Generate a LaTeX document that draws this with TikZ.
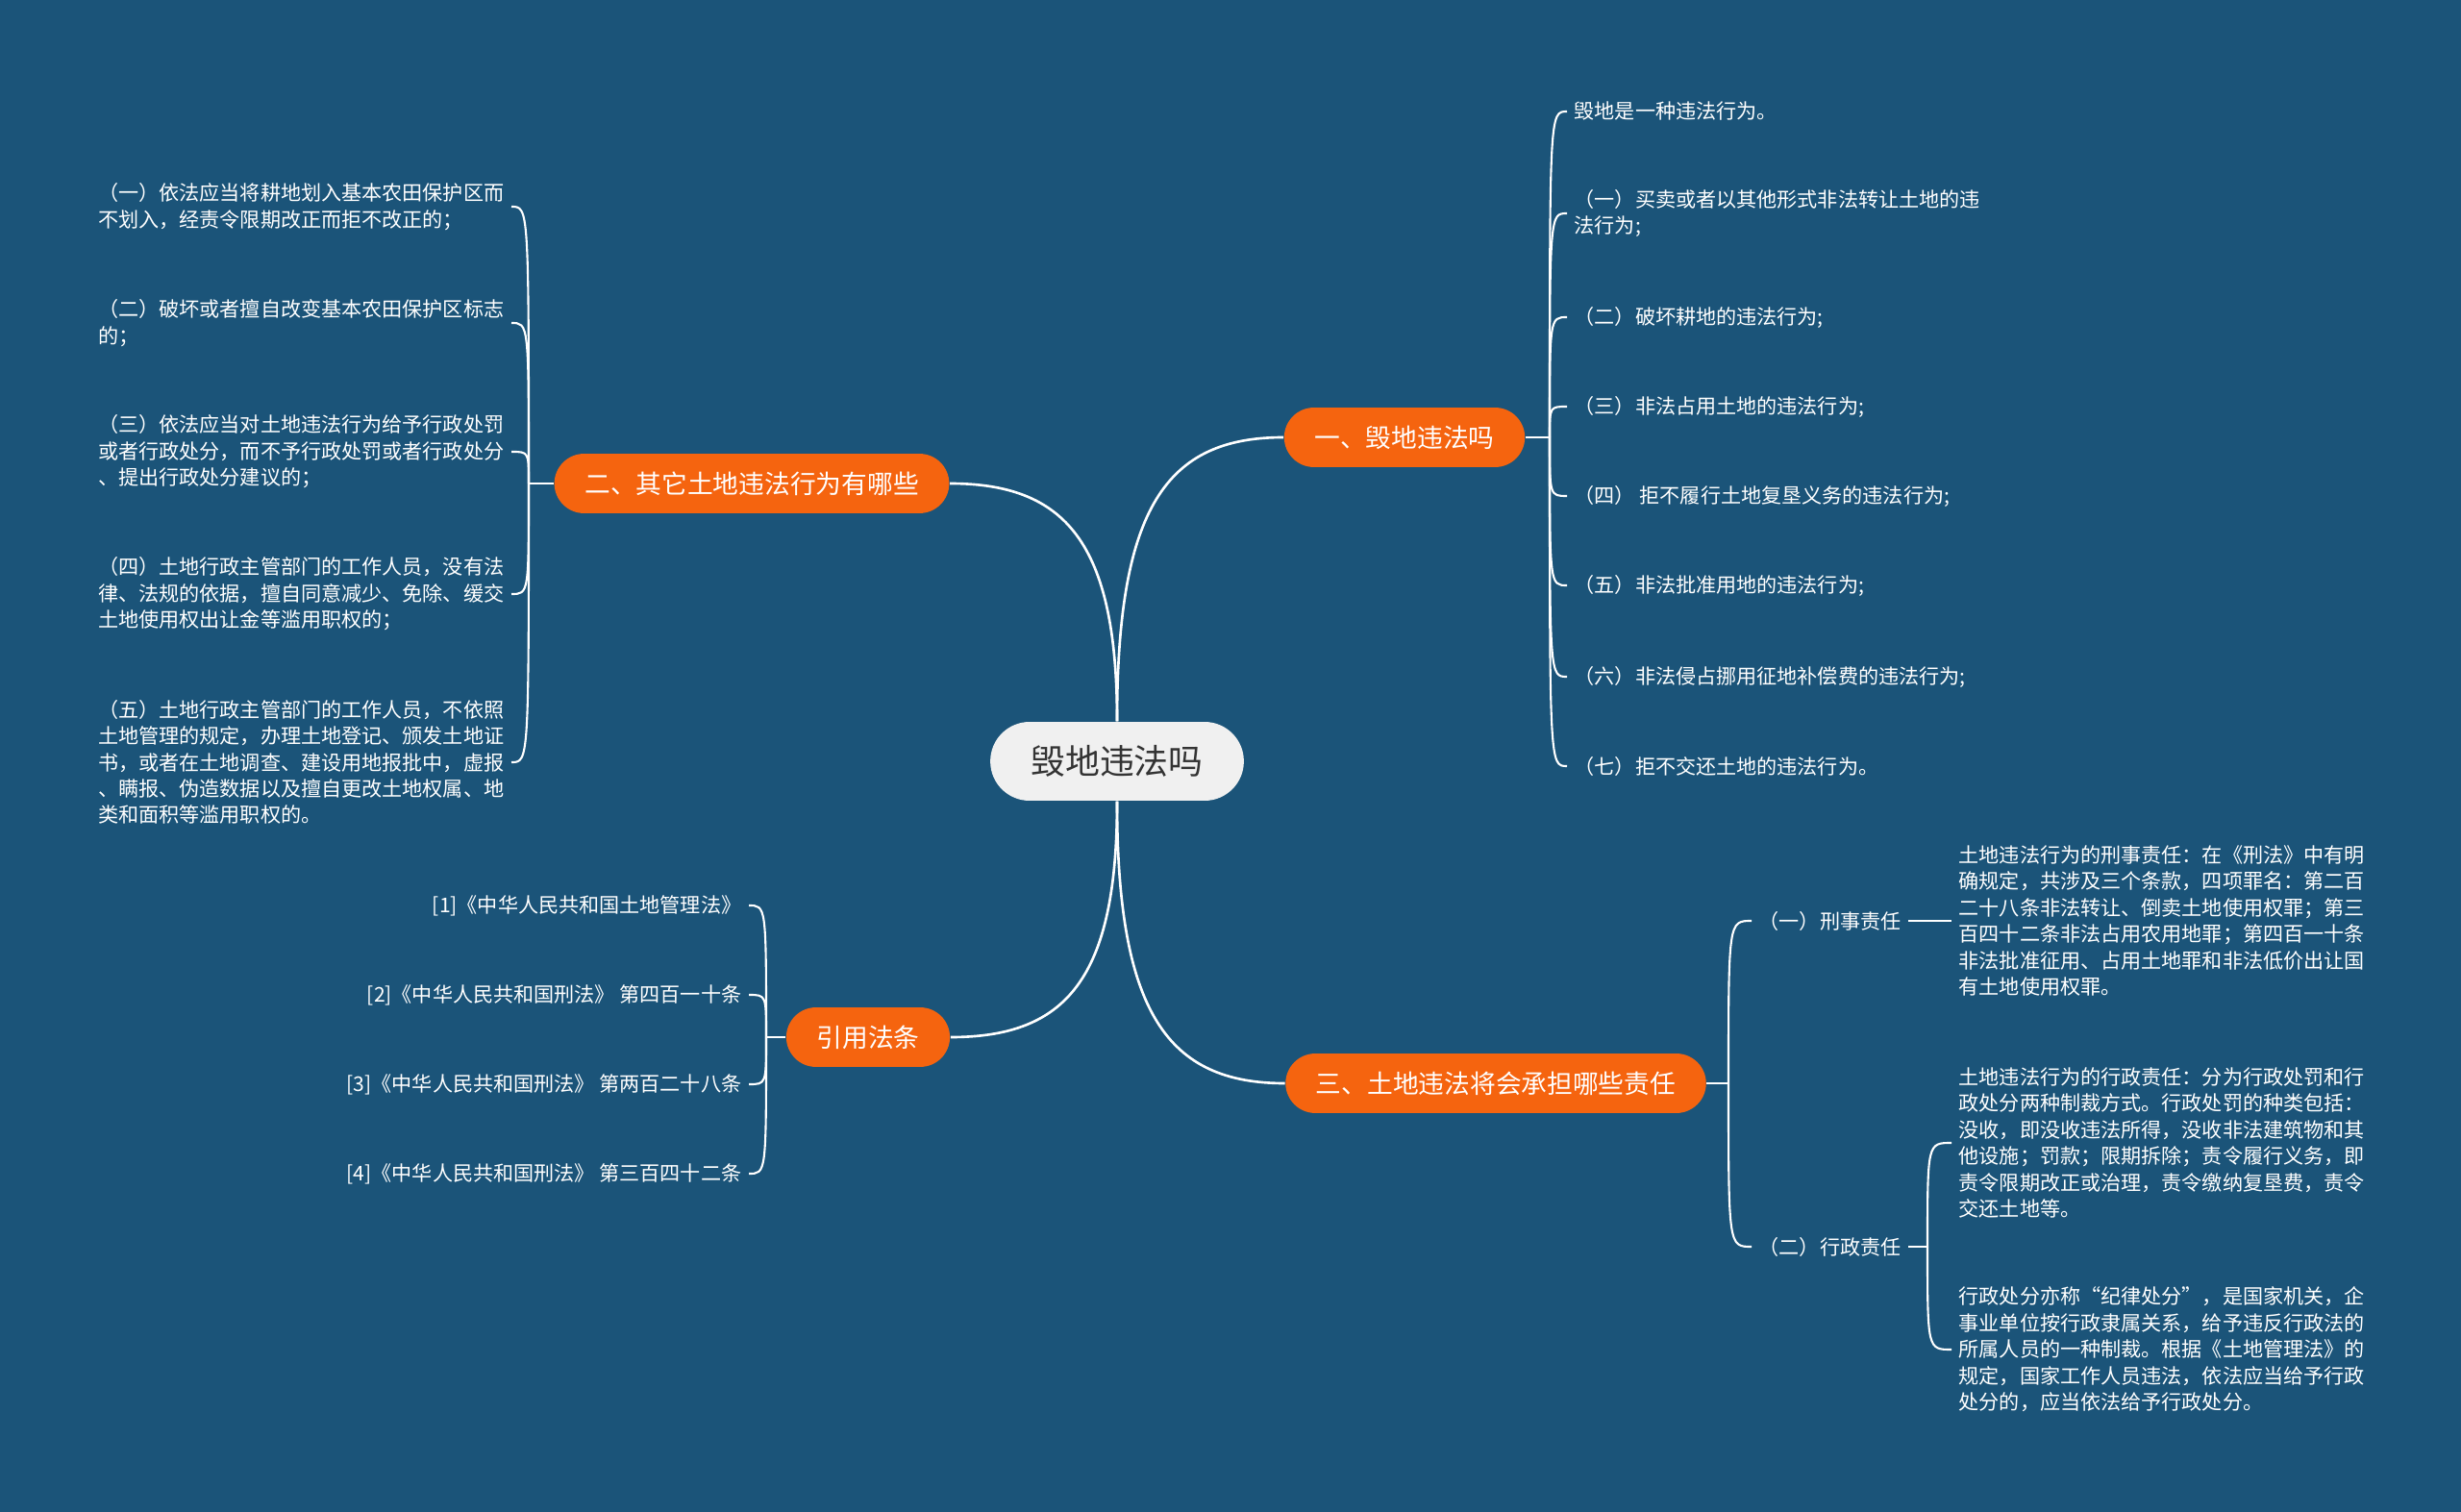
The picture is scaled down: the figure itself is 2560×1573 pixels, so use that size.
\documentclass[tikz,border=0pt]{standalone}
\usepackage{fontspec}
\newfontfamily\cjk{Noto Sans CJK SC}
\definecolor{bgblue}{HTML}{1B5479}
\definecolor{topicorange}{HTML}{F5640F}
\definecolor{rootgray}{HTML}{F0F0F0}
\begin{document}
\begin{tikzpicture}[x=0.01cm, y=-0.01cm,
  root/.style={fill=rootgray, text=black!80, rounded corners=11.6pt, minimum height=23.3pt, inner xsep=12pt, font=\cjk\fontsize{10.2pt}{12pt}\selectfont},
  topic/.style={fill=topicorange, text=white, rounded corners=8.8pt, minimum height=17.6pt, inner xsep=9pt, font=\cjk\fontsize{7.6pt}{9pt}\selectfont},
  leaf/.style={text=white, inner xsep=2pt, inner ysep=1pt, font=\cjk\fontsize{6pt}{7.8pt}\selectfont},
  link/.style={white, line width=0.75pt},
  sublink/.style={white, line width=0.6pt}]
  \fill[bgblue] (0,0) rectangle (2560,1573);
  \useasboundingbox (0,0) rectangle (2560,1573);

  % centre and main topics
  \node[root] (c) at (1162,792) {毁地违法吗};
  \node[topic] (t1) at (1461,455) {一、毁地违法吗};
  \node[topic] (t2) at (782,503) {二、其它土地违法行为有哪些};
  \node[topic] (t3) at (1556,1127) {三、土地违法将会承担哪些责任};
  \node[topic] (t4) at (903,1079) {引用法条};
  \draw[link] (c.north) .. controls +(0,-222) and +(-122,0) .. (t1.west);
  \draw[link] (c.north) .. controls +(0,-186) and +(120,0) .. (t2.east);
  \draw[link] (c.south) .. controls +(0,220) and +(-122,0) .. (t3.west);
  \draw[link] (c.south) .. controls +(0,185) and +(120,0) .. (t4.east);

  % branch one
  \node[leaf, anchor=west] (r1) at (1630,116) {毁地是一种违法行为。};
  \node[leaf, anchor=west, align=left] (r2) at (1630,222) {（一）买卖或者以其他形式非法转让土地的违\\法行为;};
  \node[leaf, anchor=west] (r3) at (1630,330) {（二）破坏耕地的违法行为;};
  \node[leaf, anchor=west] (r4) at (1630,423) {（三）非法占用土地的违法行为;};
  \node[leaf, anchor=west] (r5) at (1630,516) {（四） 拒不履行土地复垦义务的违法行为;};
  \node[leaf, anchor=west] (r6) at (1630,609) {（五）非法批准用地的违法行为;};
  \node[leaf, anchor=west] (r7) at (1630,704) {（六）非法侵占挪用征地补偿费的违法行为;};
  \node[leaf, anchor=west] (r8) at (1630,797) {（七）拒不交还土地的违法行为。};
  \coordinate (j1) at (1612,455);
  \draw[sublink] (t1.east) -- (j1);
  \foreach \i in {1,...,8}
    \draw[sublink] (j1) .. controls (j1 |- r\i.west) .. (r\i.west);

  % branch two
  \node[leaf, anchor=east, align=left] (l1) at (532,215) {（一）依法应当将耕地划入基本农田保护区而\\不划入，经责令限期改正而拒不改正的；};
  \node[leaf, anchor=east, align=left] (l2) at (532,336) {（二）破坏或者擅自改变基本农田保护区标志\\的；};
  \node[leaf, anchor=east, align=left] (l3) at (532,470) {（三）依法应当对土地违法行为给予行政处罚\\或者行政处分，而不予行政处罚或者行政处分\\、提出行政处分建议的；};
  \node[leaf, anchor=east, align=left] (l4) at (532,618) {（四）土地行政主管部门的工作人员，没有法\\律、法规的依据，擅自同意减少、免除、缓交\\土地使用权出让金等滥用职权的；};
  \node[leaf, anchor=east, align=left] (l5) at (532,793) {（五）土地行政主管部门的工作人员，不依照\\土地管理的规定，办理土地登记、颁发土地证\\书，或者在土地调查、建设用地报批中，虚报\\、瞒报、伪造数据以及擅自更改土地权属、地\\类和面积等滥用职权的。};
  \coordinate (j2) at (550,503);
  \draw[sublink] (t2.west) -- (j2);
  \foreach \i in {1,...,5}
    \draw[sublink] (j2) .. controls (j2 |- l\i.east) .. (l\i.east);

  % branch three
  \node[leaf, anchor=west] (s1) at (1822,958) {（一）刑事责任};
  \node[leaf, anchor=west] (s2) at (1822,1297) {（二）行政责任};
  \coordinate (j3) at (1798,1127);
  \draw[sublink] (t3.east) -- (j3);
  \foreach \i in {1,2}
    \draw[sublink] (j3) .. controls (j3 |- s\i.west) .. (s\i.west);
  \node[leaf, anchor=west, align=left] (x1) at (2030,958) {土地违法行为的刑事责任：在《刑法》中有明\\确规定，共涉及三个条款，四项罪名：第二百\\二十八条非法转让、倒卖土地使用权罪；第三\\百四十二条非法占用农用地罪；第四百一十条\\非法批准征用、占用土地罪和非法低价出让国\\有土地使用权罪。};
  \draw[sublink] (s1.east) -- (x1.west);
  \node[leaf, anchor=west, align=left] (x2) at (2030,1189) {土地违法行为的行政责任：分为行政处罚和行\\政处分两种制裁方式。行政处罚的种类包括：\\没收，即没收违法所得，没收非法建筑物和其\\他设施；罚款；限期拆除；责令履行义务，即\\责令限期改正或治理，责令缴纳复垦费，责令\\交还土地等。};
  \node[leaf, anchor=west, align=left] (x3) at (2030,1404) {行政处分亦称“纪律处分”，是国家机关，企\\事业单位按行政隶属关系，给予违反行政法的\\所属人员的一种制裁。根据《土地管理法》的\\规定，国家工作人员违法，依法应当给予行政\\处分的，应当依法给予行政处分。};
  \coordinate (j4) at (2005,1297);
  \draw[sublink] (s2.east) -- (j4);
  \foreach \i in {2,3}
    \draw[sublink] (j4) .. controls (j4 |- x\i.west) .. (x\i.west);

  % cited laws
  \node[leaf, anchor=east] (q1) at (779,942) {[1]《中华人民共和国土地管理法》};
  \node[leaf, anchor=east] (q2) at (779,1035) {[2]《中华人民共和国刑法》 第四百一十条};
  \node[leaf, anchor=east] (q3) at (779,1128) {[3]《中华人民共和国刑法》 第两百二十八条};
  \node[leaf, anchor=east] (q4) at (779,1221) {[4]《中华人民共和国刑法》 第三百四十二条};
  \coordinate (j5) at (797,1079);
  \draw[sublink] (t4.west) -- (j5);
  \foreach \i in {1,...,4}
    \draw[sublink] (j5) .. controls (j5 |- q\i.east) .. (q\i.east);
\end{tikzpicture}
\end{document}
